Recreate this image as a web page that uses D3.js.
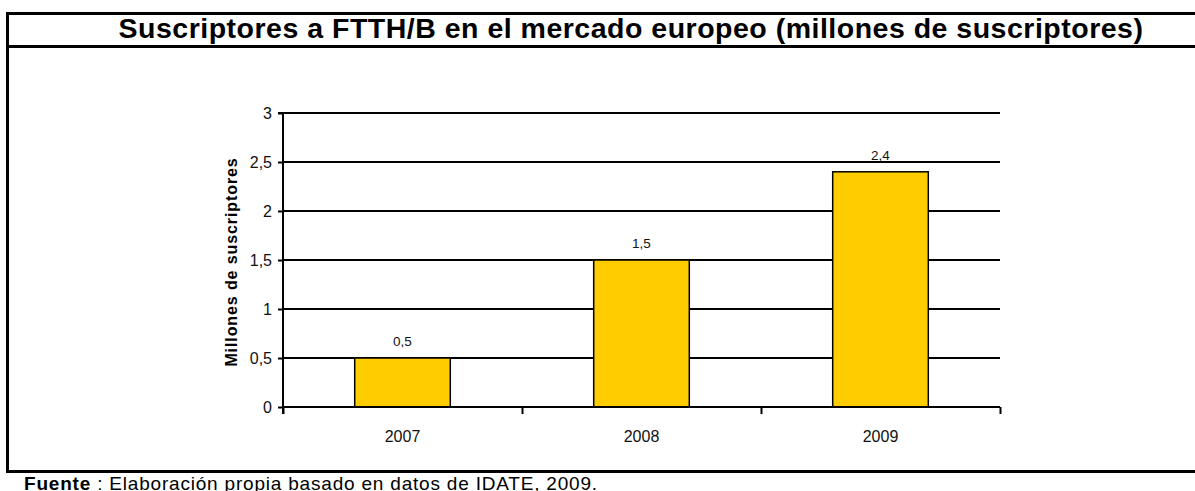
<!DOCTYPE html>
<html>
<head>
<meta charset="utf-8">
<script src="https://cdn.jsdelivr.net/npm/d3@7"></script>
<style>
  body { margin: 0; background: #fff; }
  svg { display: block; font-family: "Liberation Sans", Arial, sans-serif; }
</style>
</head>
<body>
<div id="chart"></div>
<script>
const years = ["2007", "2008", "2009"];
const subscribers = [0.5, 1.5, 2.4];
const yTicks = [0, 0.5, 1, 1.5, 2, 2.5, 3];
const titleText = "Suscriptores a FTTH/B en el mercado europeo (millones de suscriptores)";
const yLabel = "Millones de suscriptores";

const W = 1195, H = 491;
const plot = { left: 283, right: 1000, top: 113, bottom: 407 };
const comma = v => String(v).replace(".", ",");

const svg = d3.select("#chart").append("svg")
  .attr("width", W)
  .attr("height", H);

// Frame
const frame = [
  [6, 13.5, W, 13.5],
  [6, 46.5, W, 46.5],
  [6, 471.5, W, 471.5],
  [7.5, 12, 7.5, 473]
];
svg.selectAll("line.frame")
  .data(frame)
  .enter().append("line")
  .attr("class", "frame")
  .attr("x1", d => d[0]).attr("y1", d => d[1])
  .attr("x2", d => d[2]).attr("y2", d => d[3])
  .attr("stroke", "#000")
  .attr("stroke-width", 3);

svg.append("text")
  .attr("x", 631)
  .attr("y", 38)
  .attr("text-anchor", "middle")
  .style("font-size", "28.5px")
  .style("font-weight", "bold")
  .style("letter-spacing", "0.5px")
  .text(titleText);

// Scales
const x = d3.scaleBand()
  .domain(years)
  .range([plot.left, plot.right])
  .paddingInner(0.6)
  .paddingOuter(0.3);

const xEdge = d3.scaleLinear()
  .domain([0, years.length])
  .range([plot.left, plot.right]);

const y = d3.scaleLinear()
  .domain([0, 3])
  .range([plot.bottom, plot.top]);

// Gridlines
svg.append("g")
  .selectAll("line")
  .data(yTicks.filter(d => d > 0))
  .enter().append("line")
  .attr("x1", plot.left)
  .attr("x2", plot.right)
  .attr("y1", d => y(d))
  .attr("y2", d => y(d))
  .attr("stroke", "#000")
  .attr("stroke-width", 2);

// Bars
svg.append("g")
  .selectAll("rect")
  .data(subscribers)
  .enter().append("rect")
  .attr("x", (d, i) => x(years[i]))
  .attr("y", d => y(d))
  .attr("width", x.bandwidth())
  .attr("height", d => y(0) - y(d))
  .attr("fill", "#FFCC00")
  .attr("stroke", "#000")
  .attr("stroke-width", 1.5);

// Value labels
svg.append("g")
  .selectAll("text")
  .data(subscribers)
  .enter().append("text")
  .attr("x", (d, i) => x(years[i]) + x.bandwidth() / 2)
  .attr("y", d => y(d) - 12)
  .attr("text-anchor", "middle")
  .style("font-size", "13.5px")
  .style("fill", "#111")
  .text(d => comma(d));

// Y axis
const yAxis = svg.append("g")
  .attr("transform", `translate(${plot.left},0)`)
  .call(d3.axisLeft(y).tickValues(yTicks).tickSize(5).tickPadding(6).tickFormat(comma));
yAxis.select(".domain").attr("stroke-width", 2).attr("d", `M-5,${plot.top}H0V${plot.bottom + 7}`);
yAxis.selectAll(".tick line").attr("stroke-width", 2);
yAxis.selectAll(".tick text")
  .style("font-size", "16px")
  .style("font-family", "'Liberation Sans', Arial, sans-serif")
  .attr("fill", "#111");

// X axis
const xAxis = svg.append("g")
  .attr("transform", `translate(0,${plot.bottom})`)
  .call(d3.axisBottom(xEdge).ticks(years.length).tickSize(7).tickFormat(""));
xAxis.select(".domain").attr("stroke-width", 2).attr("d", `M${plot.left},0H${plot.right}`);
xAxis.selectAll(".tick line").attr("stroke-width", 2);

svg.append("g")
  .selectAll("text")
  .data(years)
  .enter().append("text")
  .attr("x", d => x(d) + x.bandwidth() / 2)
  .attr("y", 442)
  .attr("text-anchor", "middle")
  .style("font-size", "16px")
  .style("fill", "#111")
  .text(d => d);

// Axis title
svg.append("text")
  .attr("transform", "translate(237,262) rotate(-90)")
  .attr("text-anchor", "middle")
  .style("font-size", "16px")
  .style("font-weight", "bold")
  .style("letter-spacing", "0.9px")
  .text(yLabel);

// Source
const src = svg.append("text")
  .attr("x", 24)
  .attr("y", 490)
  .style("font-size", "19px")
  .style("letter-spacing", "0.8px");
src.append("tspan").style("font-weight", "bold").text("Fuente");
src.append("tspan").text(" : Elaboración propia basado en datos de IDATE, 2009.");
</script>
</body>
</html>
